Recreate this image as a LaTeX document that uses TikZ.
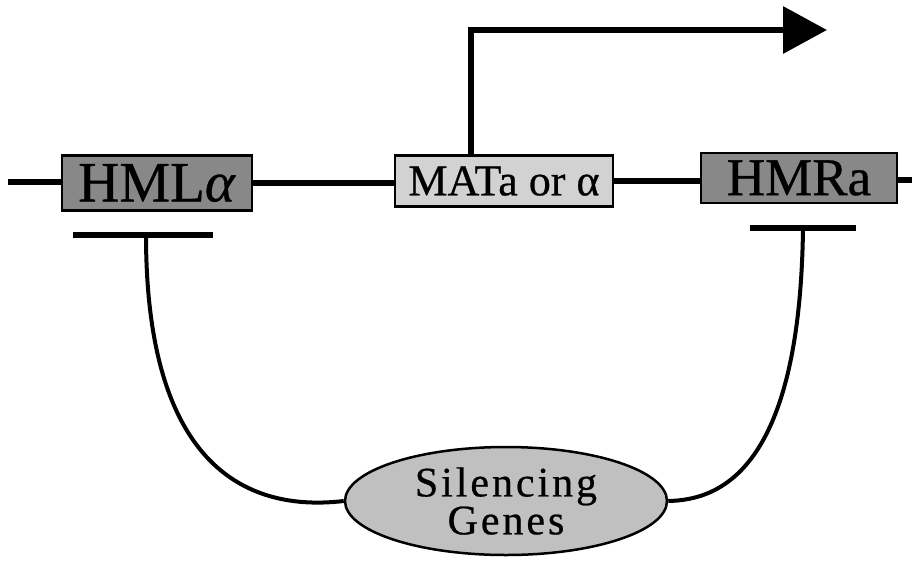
\documentclass[tikz,border=0pt]{standalone}
\usepackage{fontspec}
\setmainfont[FakeBold=0.6]{Liberation Serif}
\newfontfamily\spaced[LetterSpace=7,FakeBold=0.6]{Liberation Serif}
\usetikzlibrary{shapes.geometric,arrows.meta}
\definecolor{darkbox}{HTML}{888888}
\definecolor{lightbox}{HTML}{D2D2D2}
\definecolor{ellfill}{HTML}{C0C0C0}
\tikzset{
  genebox/.style={draw=black, line width=2.5pt, inner sep=0pt, anchor=center},
  dna/.style={line width=5.5pt},
  silbar/.style={line width=5.5pt},
  link/.style={line width=4pt},
}
\begin{document}
\begin{tikzpicture}[x=1pt,y=-1pt]
\useasboundingbox (0,0) rectangle (912,562);
\coordinate (lend) at (8,182);
\coordinate (rend) at (912,180);
\node[genebox, fill=darkbox, minimum width=190pt, minimum height=55pt] (hml) at (157,183)
  {\fontsize{57}{57}\selectfont HML\textit{α}};
\node[genebox, fill=lightbox, minimum width=218pt, minimum height=51pt] (mat) at (504,181)
  {\fontsize{44}{44}\selectfont MATa or α};
\node[genebox, fill=darkbox, minimum width=196pt, minimum height=50pt] (hmr) at (799,178)
  {\fontsize{53}{53}\selectfont HMRa};
\draw[dna] (lend) -- (hml.west |- lend);
\draw[dna] (hml.east |- 0,183) -- (mat.west |- 0,183);
\draw[dna] (mat.east |- 0,181) -- (hmr.west |- 0,181);
\draw[dna] (hmr.east |- rend) -- (rend);
% promoter arrow
\coordinate (turn) at (471,30);
\coordinate (tip) at (827,30);
\draw[line width=6.5pt, -{Triangle[length=44pt 0,width=46pt 0]}] (mat.north -| turn) -- (turn) -- (tip);
% silencing bars
\coordinate (bl1) at (73,235);
\coordinate (bl2) at (213,235);
\coordinate (blm) at (146,235);
\coordinate (br1) at (750,228);
\coordinate (br2) at (856,228);
\coordinate (brm) at (803,228);
\draw[silbar] (bl1) -- (bl2);
\draw[silbar] (br1) -- (br2);
% silencing genes
\node[ellipse, draw=black, line width=2.5pt, fill=ellfill, minimum width=322pt, minimum height=108pt, inner sep=0pt, align=center] (sil) at (506,501)
  {\spaced\fontsize{42}{51}\selectfont Silencing\\\spaced\fontsize{42}{51}\selectfont Genes};
\draw[link] (blm) .. controls (146,470) and (250,512) .. (sil.west);
\draw[link] (brm) .. controls (800,470) and (720,500) .. (sil.east);
\end{tikzpicture}
\end{document}
